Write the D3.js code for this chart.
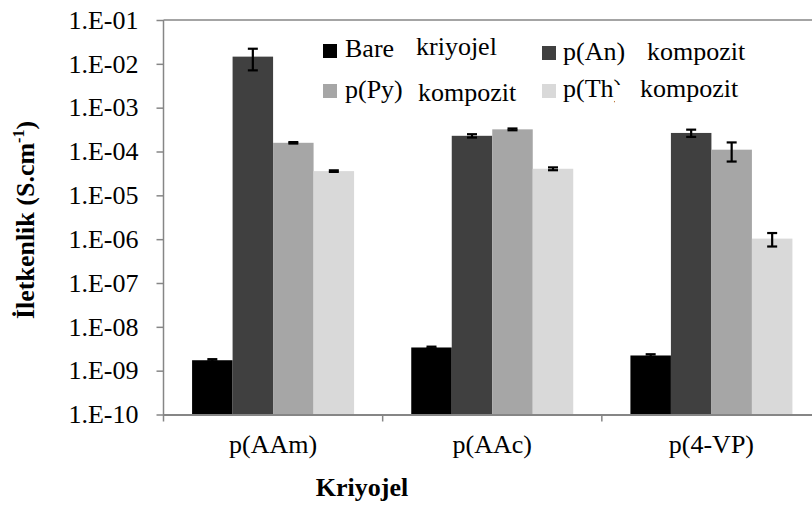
<!DOCTYPE html>
<html>
<head>
<meta charset="utf-8">
<script src="https://cdn.jsdelivr.net/npm/d3@7"></script>
<style>
  html, body { margin: 0; padding: 0; background: #ffffff; }
  svg { display: block; }
  svg text { font-family: "Liberation Serif", Tinos, "Times New Roman", Times, "DejaVu Serif", serif; fill: #000; }
</style>
</head>
<body>
<svg id="chart" width="812" height="508"></svg>
<script>
// Cryogel groups and conductivity (S/cm) per composite type
const categories = ["p(AAm)", "p(AAc)", "p(4-VP)"];
const seriesNames = ["Bare kriyojel", "p(An) kompozit", "p(Py) kompozit", "p(Th) kompozit"];
const bareValues = [1.73e-9, 3.38e-9, 2.22e-9];
const pAnValues  = [1.46e-2, 2.28e-4, 2.65e-4];
const pPyValues  = [1.58e-4, 3.20e-4, 1.10e-4];
const pThValues  = [3.57e-5, 4.04e-5, 1.03e-6];
const bareErr = [0.10e-9, 0.15e-9, 0.15e-9];
const pAnErr  = [7.5e-3, 0.20e-4, 0.50e-4];
const pPyErr  = [0.06e-4, 0.15e-4, 0.51e-4];
const pThErr  = [0.15e-5, 0.30e-5, 0.35e-6];
const yTicks = [1e-1, 1e-2, 1e-3, 1e-4, 1e-5, 1e-6, 1e-7, 1e-8, 1e-9, 1e-10];
const yTickLabels = ["1.E-01", "1.E-02", "1.E-03", "1.E-04", "1.E-05", "1.E-06", "1.E-07", "1.E-08", "1.E-09", "1.E-10"];

const colors = ["#000000", "#404040", "#a6a6a6", "#d9d9d9"];
const values = [bareValues, pAnValues, pPyValues, pThValues];
const errors = [bareErr, pAnErr, pPyErr, pThErr];

const serif = '"Liberation Serif", Tinos, "Times New Roman", Times, "DejaVu Serif", serif';
const svg = d3.select("#chart");
const plot = { left: 163.5, right: 821, top: 20, bottom: 414.5 };
const axisColor = "#868686";
const fontSize = 26;

const x = d3.scaleBand().domain(categories).range([plot.left, plot.right]).padding(0);
const groupW = 162;
const xs = d3.scaleBand().domain(d3.range(seriesNames.length))
  .range([(x.bandwidth() - groupW) / 2, (x.bandwidth() + groupW) / 2]).padding(0);
const y = d3.scaleLog().domain([1e-10, 1e-1]).range([plot.bottom, plot.top]);

// Top border of the plot area
svg.append("line")
  .attr("x1", plot.left).attr("x2", plot.right)
  .attr("y1", y(1e-1)).attr("y2", y(1e-1))
  .attr("stroke", axisColor).attr("stroke-width", 1.5);

// Bars
const groups = svg.append("g").selectAll("g")
  .data(categories).join("g")
  .attr("transform", c => `translate(${x(c)},0)`);

seriesNames.forEach((s, si) => {
  groups.append("rect")
    .attr("x", xs(si))
    .attr("width", xs.bandwidth())
    .attr("y", (c, ci) => y(values[si][ci]))
    .attr("height", (c, ci) => y(1e-10) - y(values[si][ci]))
    .attr("fill", colors[si]);
});

// Error bars
seriesNames.forEach((s, si) => {
  const eb = groups.append("g")
    .attr("stroke", "#000").attr("stroke-width", 2.2).attr("fill", "none");
  const cx = xs(si) + xs.bandwidth() / 2;
  const hi = (c, ci) => y(values[si][ci] + errors[si][ci]);
  const lo = (c, ci) => y(values[si][ci] - errors[si][ci]);
  eb.append("line").attr("x1", cx).attr("x2", cx).attr("y1", hi).attr("y2", lo);
  eb.append("line").attr("x1", cx - 5).attr("x2", cx + 5).attr("y1", hi).attr("y2", hi);
  eb.append("line").attr("x1", cx - 5).attr("x2", cx + 5).attr("y1", lo).attr("y2", lo);
});

// Y axis
const yAxis = d3.axisLeft(y)
  .tickValues(yTicks)
  .tickSize(7)
  .tickPadding(18)
  .tickFormat((d, i) => yTickLabels[i]);
const gy = svg.append("g")
  .attr("transform", `translate(${plot.left},0)`)
  .call(yAxis)
  .attr("font-family", serif).attr("font-size", fontSize);
gy.select(".domain").attr("stroke", axisColor).attr("stroke-width", 1.5)
  .attr("d", `M0,${plot.top}V${plot.bottom + 7}`);
gy.selectAll(".tick line").attr("stroke", axisColor).attr("stroke-width", 1.5);
gy.selectAll(".tick text").attr("fill", "#000");

// X axis with tick marks between the categories
const xAxis = d3.axisBottom(x).tickSize(0).tickPadding(20);
const gx = svg.append("g")
  .attr("transform", `translate(0,${plot.bottom})`)
  .call(xAxis)
  .attr("font-family", serif).attr("font-size", fontSize);
gx.select(".domain").attr("stroke", axisColor).attr("stroke-width", 2);
gx.selectAll(".tick text").attr("fill", "#000");
gx.selectAll(".sep")
  .data(categories.slice(1)).join("line")
  .attr("class", "sep")
  .attr("x1", c => x(c)).attr("x2", c => x(c))
  .attr("y1", 0).attr("y2", 7)
  .attr("stroke", axisColor).attr("stroke-width", 1.5);

// Axis titles
svg.append("text")
  .attr("x", 362).attr("y", 496)
  .attr("text-anchor", "middle")
  .attr("font-weight", "bold").attr("font-size", fontSize)
  .text("Kriyojel");

const yt = svg.append("text")
  .attr("transform", "translate(34,220) rotate(-90)")
  .attr("text-anchor", "middle")
  .attr("font-weight", "bold").attr("font-size", fontSize);
yt.append("tspan").text("İletkenlik (S.cm");
yt.append("tspan").attr("font-size", 16).attr("dy", -10).text("-1");
yt.append("tspan").attr("dy", 10).text(")");

// Legend
const legendItems = [
  { mx: 323, my: 44, parts: [[345, 57, "Bare"], [416, 55, "kriyojel"]] },
  { mx: 542, my: 46, parts: [[563, 60, "p(An)"], [647, 60, "kompozit"]] },
  { mx: 323, my: 84, parts: [[345, 98, "p(Py)"], [418, 101, "kompozit"]] },
  { mx: 542, my: 84, parts: [[563, 97, "p(Th)"], [640, 97, "kompozit"]] }
];
const legend = svg.append("g");
legendItems.forEach((it, i) => {
  legend.append("rect")
    .attr("x", it.mx).attr("y", it.my).attr("width", 14).attr("height", 14)
    .attr("fill", colors[i]);
  it.parts.forEach(([tx, ty, t], pi) => {
    if (i === 3 && pi === 1) {
      // the text box of the second word sits over the closing parenthesis
      legend.append("rect").attr("x", 615).attr("y", ty - 12).attr("width", 25).attr("height", 22)
        .attr("fill", "#fff");
    }
    legend.append("text").attr("x", tx).attr("y", ty)
      .attr("font-size", fontSize).text(t);
  });
});
</script>
</body>
</html>
